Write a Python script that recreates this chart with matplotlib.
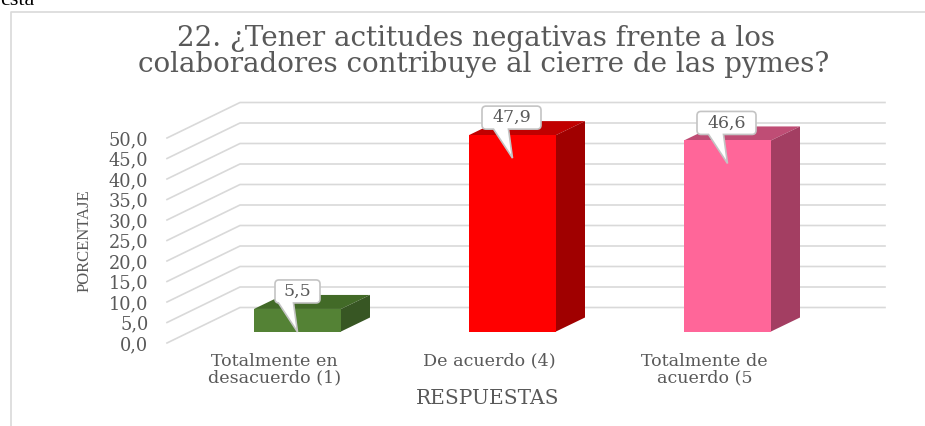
import matplotlib
matplotlib.use("Agg")
import matplotlib.pyplot as plt
from matplotlib.lines import Line2D
from matplotlib.patches import PathPatch, Polygon
from matplotlib.path import Path

categories = ["Totalmente en\ndesacuerdo (1)", "De acuerdo (4)", "Totalmente de\nacuerdo (5"]
values = [5.5, 47.9, 46.6]
y_ticks = [0, 5, 10, 15, 20, 25, 30, 35, 40, 45, 50]
y_tick_labels = ["0,0", "5,0", "10,0", "15,0", "20,0", "25,0", "30,0", "35,0", "40,0", "45,0", "50,0"]
value_labels = ["5,5", "47,9", "46,6"]

front_colors = ["#548235", "#ff0000", "#ff6699"]
top_colors = ["#426a27", "#c00000", "#bf4d75"]
side_colors = ["#375623", "#a00000", "#a33e62"]
box_widths = [45, 59, 59]
box_shift = [0, -1, -1]

W, H = 925, 426
GRAY = "#595959"
GRID = "#d9d9d9"

# the reference text is stretched wide, DejaVu Serif has about those proportions
plt.rcParams["font.family"] = ["DejaVu Serif"]

fig = plt.figure(figsize=(W / 100, H / 100), dpi=100)
ax = fig.add_axes([167 / W, (H - 343) / H, 645 / W, 205 / H])
ax.set_xlim(-0.5, 2.5)
ax.set_ylim(0, 50)
for s in ax.spines.values():
    s.set_visible(False)

# size of one pixel in data units
DX = 3 / 645
DY = 50 / 205

# floor/wall depth and bar depth
wall_x, wall_y = 73 * DX, 35.5 * DY
gap_x, gap_y = 23 * DX, 11.5 * DY
depth_x, depth_y = 29 * DX, 14 * DY
bar_w = 87 * DX

ax.set_yticks(y_ticks)
ax.set_yticklabels(y_tick_labels, fontsize=12.8, color=GRAY)
ax.set_xticks(range(len(categories)))
ax.set_xticklabels(categories, fontsize=12.6, color=GRAY, linespacing=0.95)
ax.tick_params(axis="both", length=0)
ax.tick_params(axis="y", pad=13.5)
ax.tick_params(axis="x", pad=7)

# gridlines run up the side wall then along the back
for t in y_ticks:
    ax.plot([-0.5, -0.5 + wall_x, 2.5 + wall_x], [t, t + wall_y, t + wall_y],
            color=GRID, lw=1.2, clip_on=False, zorder=1)


def callout(cx, cy, box_w, shift, text):
    # cx, cy = tip of the pointer, sizes in pixels above it
    def p(px, py):
        return (cx + px * DX, cy + py * DY)

    left = shift - box_w / 2
    right = shift + box_w / 2
    bottom, top = 29, 52
    r = 4
    verts = [p(left + r, bottom), p(-19, bottom), p(0, 0), p(-4, bottom), p(right - r, bottom),
             p(right, bottom), p(right, bottom + r), p(right, top - r), p(right, top), p(right - r, top),
             p(left + r, top), p(left, top), p(left, top - r), p(left, bottom + r), p(left, bottom),
             p(left + r, bottom), p(left + r, bottom)]
    codes = [Path.MOVETO, Path.LINETO, Path.LINETO, Path.LINETO, Path.LINETO,
             Path.CURVE3, Path.CURVE3, Path.LINETO, Path.CURVE3, Path.CURVE3,
             Path.LINETO, Path.CURVE3, Path.CURVE3, Path.LINETO, Path.CURVE3,
             Path.CURVE3, Path.CLOSEPOLY]
    ax.add_patch(PathPatch(Path(verts, codes), facecolor="white", edgecolor="#c4c4c4", lw=1.2,
                           clip_on=False, zorder=6))
    ax.text(*p(shift, 40.5), text, ha="center", va="center", fontsize=12.5, color=GRAY, zorder=7)


for i, v in enumerate(values):
    x0 = i - bar_w / 2 + gap_x
    x1 = i + bar_w / 2 + gap_x
    y0 = gap_y
    y1 = gap_y + v
    ax.bar(i + gap_x, v, width=bar_w, bottom=y0, color=front_colors[i], zorder=4, clip_on=False)
    ax.add_patch(Polygon([(x0, y1), (x0 + depth_x, y1 + depth_y), (x1 + depth_x, y1 + depth_y), (x1, y1)],
                         facecolor=top_colors[i], clip_on=False, zorder=3))
    ax.add_patch(Polygon([(x1, y0), (x1 + depth_x, y0 + depth_y), (x1 + depth_x, y1 + depth_y), (x1, y1)],
                         facecolor=side_colors[i], clip_on=False, zorder=3))
    callout(i + gap_x, y1 - 23 * DY, box_widths[i], box_shift[i], value_labels[i])

# title lines are not centred on each other in the reference
fig.text(476 / W, 1 - 38 / H, "22. ¿Tener actitudes negativas frente a los",
         ha="center", va="center", fontsize=20, color=GRAY)
fig.text(484 / W, 1 - 65 / H, "colaboradores contribuye al cierre de las pymes?",
         ha="center", va="center", fontsize=20, color=GRAY)
fig.text(85 / W, 1 - 241 / H, "PORCENTAJE", rotation=90, ha="center", va="center", fontsize=12,
         color=GRAY, family="Liberation Serif")
fig.text(488 / W, 1 - 399 / H, "RESPUESTAS", ha="center", va="center", fontsize=14.5, color=GRAY)
fig.text(0, 1 - 5 / H, "esta", ha="left", va="baseline", fontsize=16, color="black", family="Liberation Serif")

# chart frame, only left and top survive in the crop
fig.add_artist(Line2D([11 / W, 11 / W, 1], [0, 1 - 12 / H, 1 - 12 / H], color=GRID, lw=1.2))

fig.savefig("out.png", dpi=100)
